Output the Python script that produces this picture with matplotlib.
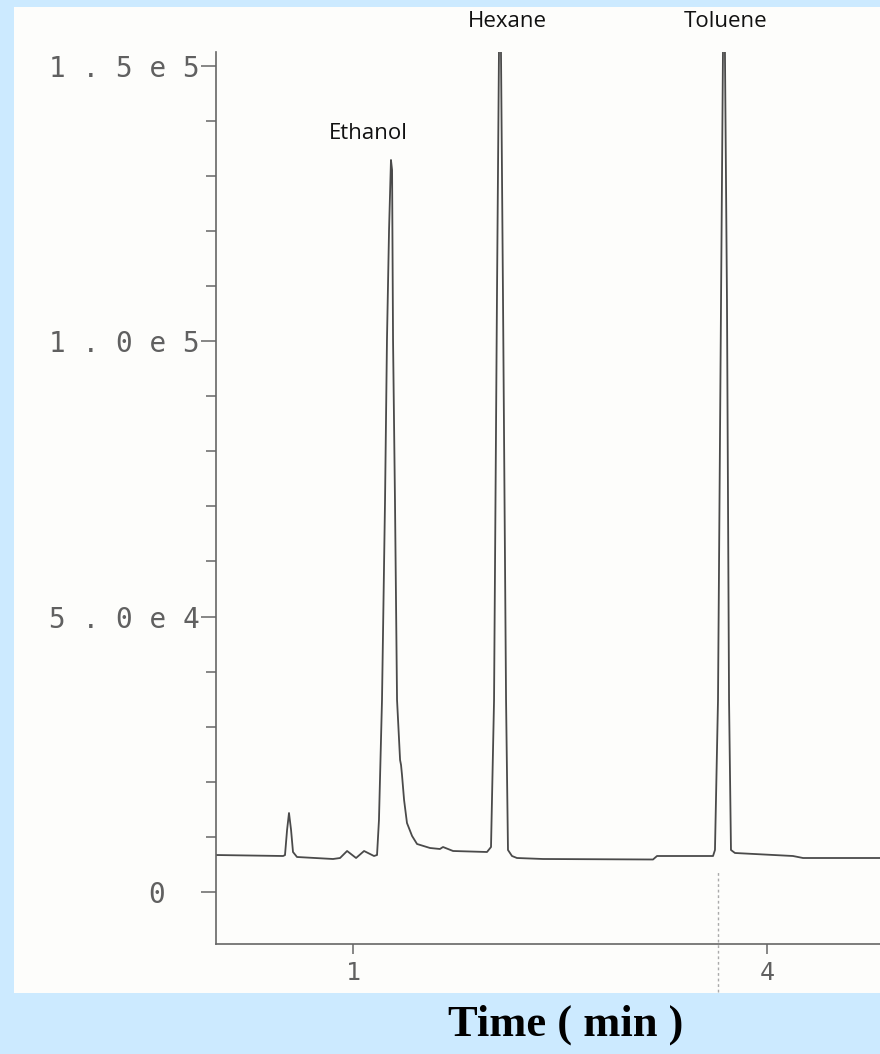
import matplotlib.pyplot as plt
from matplotlib.patches import Rectangle
from matplotlib.ticker import MultipleLocator

# detector trace
time_min = [0.000, 0.493, 0.507, 0.522, 0.536, 0.551, 0.565, 0.594,
            0.855, 0.906, 0.957, 1.022, 1.080, 1.152, 1.174, 1.188,
            1.210, 1.232, 1.246, 1.261, 1.275, 1.283, 1.290, 1.304,
            1.319, 1.341, 1.348, 1.355, 1.370, 1.391, 1.428, 1.464,
            1.558, 1.630, 1.652, 1.725, 1.971, 2.000, 2.022, 2.043,
            2.065, 2.087, 2.109, 2.123, 2.152, 2.188, 2.377, 3.174,
            3.203, 3.609, 3.623, 3.645, 3.667, 3.688, 3.710, 3.725,
            3.739, 3.768, 4.188, 4.261, 4.768, 4.819]
signal = [6716, 6534, 6700, 11253, 14339, 11253, 7260, 6353,
          5990, 6171, 7442, 6171, 7442, 6534, 6716, 13068,
          34848, 71148, 100188, 120150, 132858, 131043, 100188, 71148,
          34848, 23958, 23050, 21236, 16698, 12524, 10164, 8712,
          7986, 7805, 8168, 7442, 7260, 8168, 34848, 107448,
          175000, 107448, 34848, 7623, 6534, 6171, 5990, 5899,
          6534, 6534, 7623, 34848, 107448, 175000, 107448, 34848,
          7623, 7079, 6534, 6171, 6171, 6171]

peak_names = ["Ethanol", "Hexane", "Toluene"]
peak_label_time = [1.109, 2.116, 3.703]
peak_label_height = [0.909, 1.034, 1.034]   # axes fraction

y_ticks = [0, 50000, 100000, 150000]
y_tick_labels = ["0", "5.0e4", "1.0e5", "1.5e5"]
x_ticks = [1, 4]
x_tick_labels = ["1", "4"]
marker_time = 3.645

W, H = 880, 1054
fig = plt.figure(figsize=(W / 100, H / 100), dpi=100)
fig.patch.set_facecolor("#cceaff")
fig.patches.append(Rectangle((14 / W, 61 / H), 866 / W, 986 / H,
                             transform=fig.transFigure, facecolor="#fdfdfb",
                             edgecolor="none", zorder=-5))

ax = fig.add_axes([216 / W, 110 / H, 664 / W, 892 / H])
ax.set_facecolor("none")
ax.plot(time_min, signal, color="#4a4a4a", lw=1.3)
ax.set_xlim(0.007, 4.819)
ax.set_ylim(-9438, 152460)

for s in ["top", "right"]:
    ax.spines[s].set_visible(False)
for s in ["left", "bottom"]:
    ax.spines[s].set_color("#666666")
    ax.spines[s].set_linewidth(1.2)


def spaced(t):
    return " ".join(t)


ax.set_yticks(y_ticks)
ax.set_yticklabels([spaced(t) if t != "0" else "0  " for t in y_tick_labels])
ax.yaxis.set_minor_locator(MultipleLocator(10000))
ax.set_xticks(x_ticks)
ax.set_xticklabels(x_tick_labels)
ax.tick_params(axis="y", which="major", length=11, width=1.1, color="#666666",
               labelsize=20, labelcolor="#606060", pad=1)
ax.tick_params(axis="y", which="minor", length=7, width=1.1, color="#666666")
ax.tick_params(axis="x", which="major", length=7, width=1.1, color="#666666",
               labelsize=18, labelcolor="#606060", pad=5)
for lab in ax.get_yticklabels() + ax.get_xticklabels():
    lab.set_family("DejaVu Sans Mono")

# retention marker left by the scan under the toluene peak
ax.axvline(marker_time, ymin=-0.054, ymax=0.083, color="#aaaaaa", lw=1,
           ls=(0, (2, 2)), clip_on=False)

for name, t, h in zip(peak_names, peak_label_time, peak_label_height):
    ax.text(t, h, name, transform=ax.get_xaxis_transform(), ha="center",
            va="center", fontsize=16, family="Open Sans", color="#111111",
            clip_on=False)

fig.text(566 / W, 1 - 1025 / H, "Time ( min )", ha="center", va="center",
         fontsize=32, fontweight="bold", family="Liberation Serif")

fig.savefig("out.png", dpi=100, facecolor=fig.get_facecolor())
